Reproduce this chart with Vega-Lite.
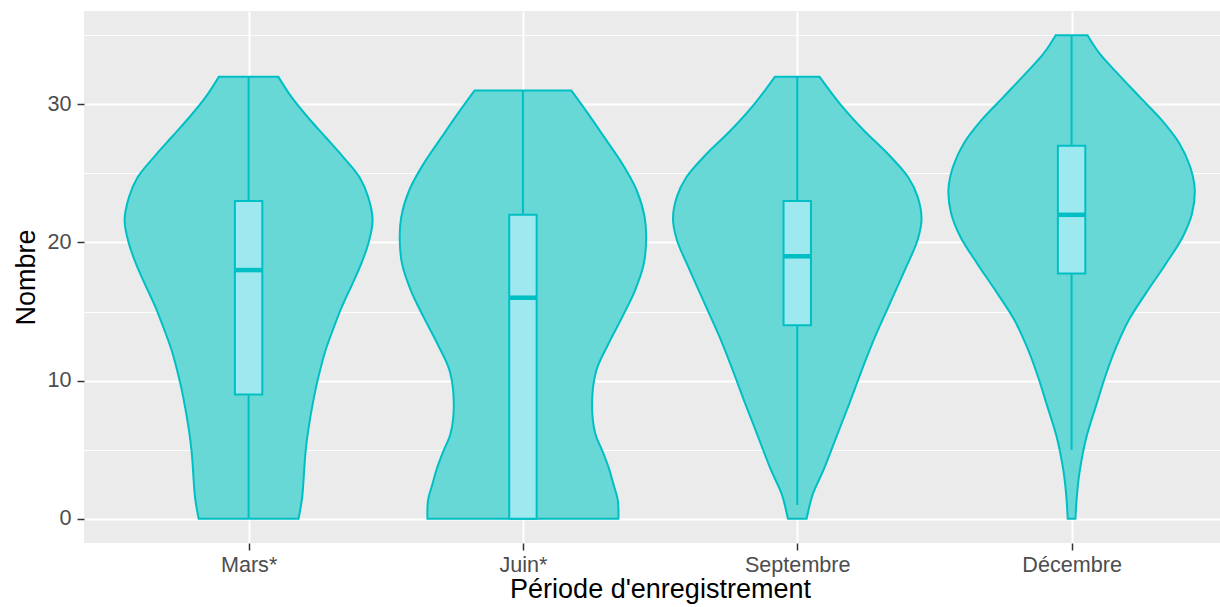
{
  "$schema": "https://vega.github.io/schema/vega-lite/v6.json",
  "autosize": {"type": "none"},
  "padding": {"left": 84, "top": 11, "right": 0, "bottom": 64},
  "width": 1136,
  "height": 532,
  "background": "white",
  "config": {
    "view": {"fill": "#EBEBEB", "stroke": null},
    "font": "Liberation Sans"
  },
  "datasets": {
    "violin": [
      {"periode": "Mars*", "pos": 1, "v": 0, "w": 0.182},
      {"periode": "Mars*", "pos": 1, "v": 1.52, "w": 0.195},
      {"periode": "Mars*", "pos": 1, "v": 3.94, "w": 0.204},
      {"periode": "Mars*", "pos": 1, "v": 4.91, "w": 0.208},
      {"periode": "Mars*", "pos": 1, "v": 6.36, "w": 0.217},
      {"periode": "Mars*", "pos": 1, "v": 8.77, "w": 0.238},
      {"periode": "Mars*", "pos": 1, "v": 10.22, "w": 0.254},
      {"periode": "Mars*", "pos": 1, "v": 12.16, "w": 0.28},
      {"periode": "Mars*", "pos": 1, "v": 13.61, "w": 0.306},
      {"periode": "Mars*", "pos": 1, "v": 15.3, "w": 0.339},
      {"periode": "Mars*", "pos": 1, "v": 16.99, "w": 0.378},
      {"periode": "Mars*", "pos": 1, "v": 18.44, "w": 0.41},
      {"periode": "Mars*", "pos": 1, "v": 19.89, "w": 0.436},
      {"periode": "Mars*", "pos": 1, "v": 21.59, "w": 0.452},
      {"periode": "Mars*", "pos": 1, "v": 23.28, "w": 0.436},
      {"periode": "Mars*", "pos": 1, "v": 24.73, "w": 0.404},
      {"periode": "Mars*", "pos": 1, "v": 26.18, "w": 0.345},
      {"periode": "Mars*", "pos": 1, "v": 27.63, "w": 0.28},
      {"periode": "Mars*", "pos": 1, "v": 29.08, "w": 0.215},
      {"periode": "Mars*", "pos": 1, "v": 30.53, "w": 0.156},
      {"periode": "Mars*", "pos": 1, "v": 32, "w": 0.108},

      {"periode": "Juin*", "pos": 2, "v": 0, "w": 0.348},
      {"periode": "Juin*", "pos": 2, "v": 1.33, "w": 0.346},
      {"periode": "Juin*", "pos": 2, "v": 2.5, "w": 0.33},
      {"periode": "Juin*", "pos": 2, "v": 3.74, "w": 0.312},
      {"periode": "Juin*", "pos": 2, "v": 4.9, "w": 0.29},
      {"periode": "Juin*", "pos": 2, "v": 6.15, "w": 0.264},
      {"periode": "Juin*", "pos": 2, "v": 8.3, "w": 0.252},
      {"periode": "Juin*", "pos": 2, "v": 10.7, "w": 0.267},
      {"periode": "Juin*", "pos": 2, "v": 12.6, "w": 0.31},
      {"periode": "Juin*", "pos": 2, "v": 14.6, "w": 0.362},
      {"periode": "Juin*", "pos": 2, "v": 16.5, "w": 0.408},
      {"periode": "Juin*", "pos": 2, "v": 18.4, "w": 0.44},
      {"periode": "Juin*", "pos": 2, "v": 20.1, "w": 0.449},
      {"periode": "Juin*", "pos": 2, "v": 21.8, "w": 0.444},
      {"periode": "Juin*", "pos": 2, "v": 23.8, "w": 0.414},
      {"periode": "Juin*", "pos": 2, "v": 25.7, "w": 0.362},
      {"periode": "Juin*", "pos": 2, "v": 27.6, "w": 0.297},
      {"periode": "Juin*", "pos": 2, "v": 29.3, "w": 0.238},
      {"periode": "Juin*", "pos": 2, "v": 31, "w": 0.176},

      {"periode": "Septembre", "pos": 3, "v": 0, "w": 0.034},
      {"periode": "Septembre", "pos": 3, "v": 1.8, "w": 0.057},
      {"periode": "Septembre", "pos": 3, "v": 3.5, "w": 0.095},
      {"periode": "Septembre", "pos": 3, "v": 5.9, "w": 0.142},
      {"periode": "Septembre", "pos": 3, "v": 8.3, "w": 0.189},
      {"periode": "Septembre", "pos": 3, "v": 10.8, "w": 0.236},
      {"periode": "Septembre", "pos": 3, "v": 13.2, "w": 0.284},
      {"periode": "Septembre", "pos": 3, "v": 15.6, "w": 0.338},
      {"periode": "Septembre", "pos": 3, "v": 18.0, "w": 0.392},
      {"periode": "Septembre", "pos": 3, "v": 20.2, "w": 0.439},
      {"periode": "Septembre", "pos": 3, "v": 21.7, "w": 0.453},
      {"periode": "Septembre", "pos": 3, "v": 23.3, "w": 0.439},
      {"periode": "Septembre", "pos": 3, "v": 24.7, "w": 0.405},
      {"periode": "Septembre", "pos": 3, "v": 26.4, "w": 0.331},
      {"periode": "Septembre", "pos": 3, "v": 28.1, "w": 0.243},
      {"periode": "Septembre", "pos": 3, "v": 30.05, "w": 0.155},
      {"periode": "Septembre", "pos": 3, "v": 32, "w": 0.081},

      {"periode": "Décembre", "pos": 4, "v": 0, "w": 0.014},
      {"periode": "Décembre", "pos": 4, "v": 1.8, "w": 0.02},
      {"periode": "Décembre", "pos": 4, "v": 3.5, "w": 0.03},
      {"periode": "Décembre", "pos": 4, "v": 5.9, "w": 0.054},
      {"periode": "Décembre", "pos": 4, "v": 8.3, "w": 0.091},
      {"periode": "Décembre", "pos": 4, "v": 10.5, "w": 0.126},
      {"periode": "Décembre", "pos": 4, "v": 12.4, "w": 0.162},
      {"periode": "Décembre", "pos": 4, "v": 14.4, "w": 0.209},
      {"periode": "Décembre", "pos": 4, "v": 16.3, "w": 0.27},
      {"periode": "Décembre", "pos": 4, "v": 18.5, "w": 0.345},
      {"periode": "Décembre", "pos": 4, "v": 20.4, "w": 0.405},
      {"periode": "Décembre", "pos": 4, "v": 22.1, "w": 0.439},
      {"periode": "Décembre", "pos": 4, "v": 23.8, "w": 0.449},
      {"periode": "Décembre", "pos": 4, "v": 25.5, "w": 0.432},
      {"periode": "Décembre", "pos": 4, "v": 27.2, "w": 0.392},
      {"periode": "Décembre", "pos": 4, "v": 28.8, "w": 0.331},
      {"periode": "Décembre", "pos": 4, "v": 30.5, "w": 0.25},
      {"periode": "Décembre", "pos": 4, "v": 32.2, "w": 0.169},
      {"periode": "Décembre", "pos": 4, "v": 33.7, "w": 0.101},
      {"periode": "Décembre", "pos": 4, "v": 35, "w": 0.058}
    ],
    "box": [
      {"periode": "Mars*", "pos": 1, "min": 0, "q1": 9, "median": 18, "q3": 23, "max": 32},
      {"periode": "Juin*", "pos": 2, "min": 0, "q1": 0, "median": 16, "q3": 22, "max": 31},
      {"periode": "Septembre", "pos": 3, "min": 1, "q1": 14, "median": 19, "q3": 23, "max": 32},
      {"periode": "Décembre", "pos": 4, "min": 5, "q1": 17.75, "median": 22, "q3": 27, "max": 35}
    ]
  },
  "layer": [
    {
      "data": {"name": "violin"},
      "transform": [
        {"calculate": "datum.pos - datum.w", "as": "lo"},
        {"calculate": "datum.pos + datum.w", "as": "hi"}
      ],
      "mark": {"type": "area", "orient": "horizontal", "interpolate": "catmull-rom", "fill": "#67D8D6", "fillOpacity": 1, "stroke": "#00BFC4", "strokeWidth": 2},
      "encoding": {
        "y": {
          "field": "v",
          "type": "quantitative",
          "scale": {"domain": [-1.75, 36.75], "nice": false, "zero": false},
          "axis": {
            "title": "Nombre",
            "values": [0, 5, 10, 15, 20, 25, 30, 35],
            "labelExpr": "datum.value % 10 === 0 ? datum.label : ''",
            "domain": false,
            "grid": true,
            "gridColor": "white",
            "gridWidth": {"condition": {"test": "datum.value % 10 === 0", "value": 2}, "value": 1},
            "ticks": true,
            "tickColor": "#333333",
            "tickSize": 7,
            "tickWidth": 1.5,
            "tickOpacity": {"condition": {"test": "datum.value % 10 === 0", "value": 1}, "value": 0},
            "labelColor": "#4D4D4D",
            "labelFontSize": 21.6,
            "labelFont": "Liberation Sans",
            "labelPadding": 6,
            "labelOverlap": false,
            "titleFont": "Liberation Sans",
            "titleFontSize": 27,
            "titleFontWeight": "normal",
            "titleColor": "black",
            "titleAngle": -90,
            "titleBaseline": "alphabetic",
            "titleAlign": "center",
            "titleX": -50,
            "titleY": 266
          }
        },
        "x": {
          "field": "lo",
          "type": "quantitative",
          "scale": {"domain": [0.4, 4.541], "nice": false, "zero": false},
          "axis": {
            "title": "Période d'enregistrement",
            "values": [1, 2, 3, 4],
            "labelExpr": "['Mars*','Juin*','Septembre','Décembre'][datum.value - 1]",
            "domain": false,
            "grid": true,
            "gridColor": "white",
            "gridWidth": 2,
            "tickColor": "#333333",
            "tickSize": 7,
            "tickWidth": 1.5,
            "labelColor": "#4D4D4D",
            "labelFontSize": 21.6,
            "labelFont": "Liberation Sans",
            "labelBaseline": "alphabetic",
            "labelPadding": 21.5,
            "labelFlush": false,
            "labelOverlap": false,
            "titleFont": "Liberation Sans",
            "titleFontSize": 27,
            "titleFontWeight": "normal",
            "titleColor": "black",
            "titleBaseline": "alphabetic",
            "titleAlign": "center",
            "titleX": 576,
            "titleY": 54
          }
        },
        "x2": {"field": "hi"},
        "detail": {"field": "periode", "type": "nominal"}
      }
    },
    {
      "data": {"name": "box"},
      "mark": {"type": "rule", "color": "#00BFC4", "strokeWidth": 2},
      "encoding": {
        "x": {"field": "pos", "type": "quantitative"},
        "y": {"field": "min", "type": "quantitative"},
        "y2": {"field": "max"}
      }
    },
    {
      "data": {"name": "box"},
      "transform": [
        {"calculate": "datum.pos - 0.05", "as": "bl"},
        {"calculate": "datum.pos + 0.05", "as": "br"}
      ],
      "mark": {"type": "rect", "fill": "#9DE9EF", "stroke": "#00BFC4", "strokeWidth": 2},
      "encoding": {
        "x": {"field": "bl", "type": "quantitative"},
        "x2": {"field": "br"},
        "y": {"field": "q1", "type": "quantitative"},
        "y2": {"field": "q3"}
      }
    },
    {
      "data": {"name": "box"},
      "transform": [
        {"calculate": "datum.pos - 0.05", "as": "bl"},
        {"calculate": "datum.pos + 0.05", "as": "br"}
      ],
      "mark": {"type": "rule", "color": "#00BFC4", "strokeWidth": 4.5},
      "encoding": {
        "x": {"field": "bl", "type": "quantitative"},
        "x2": {"field": "br"},
        "y": {"field": "median", "type": "quantitative"}
      }
    }
  ]
}
